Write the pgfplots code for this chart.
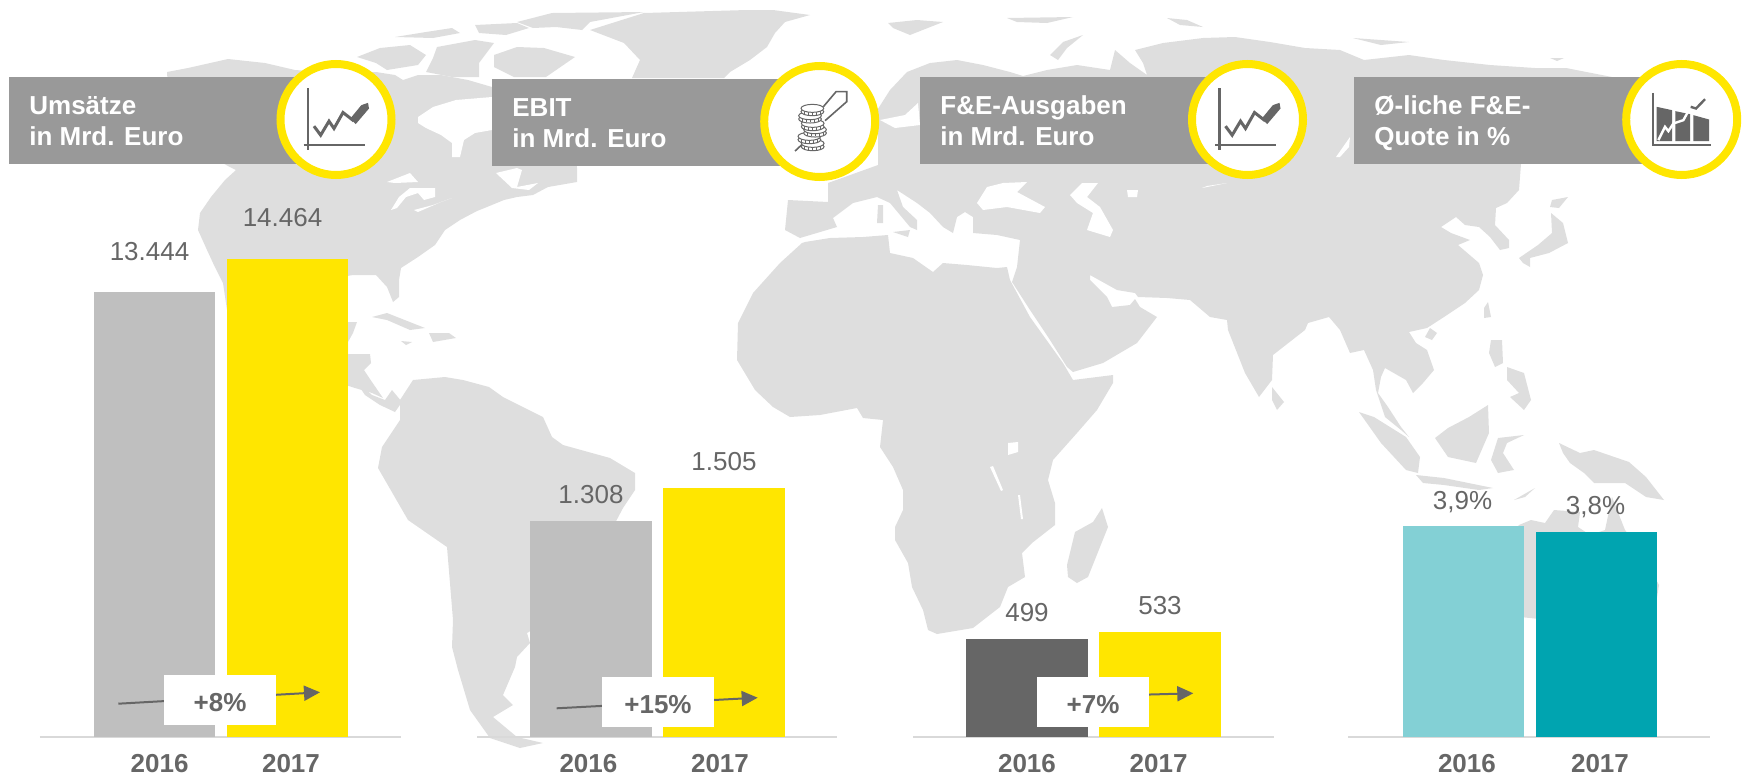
\documentclass[border=0pt]{standalone}
\usepackage{fontspec}
\setmainfont{Liberation Sans}
\usepackage{pgfplots}
\pgfplotsset{compat=1.18}
\usetikzlibrary{arrows.meta}
\definecolor{MapGray}{HTML}{DEDEDE}
\definecolor{HeadGray}{HTML}{999999}
\definecolor{BarGray}{HTML}{BFBFBF}
\definecolor{TextGray}{HTML}{666666}
\definecolor{EYYellow}{HTML}{FFE600}
\definecolor{LineGray}{HTML}{D9D9D9}
\definecolor{TealLight}{HTML}{83D0D5}
\definecolor{Teal}{HTML}{00A4B0}
\newcommand{\lab}{\fontsize{13}{15}\selectfont}
\newcommand{\labb}{\fontsize{13}{15}\selectfont\bfseries}
\newcommand{\mapland}[1]{\addplot[fill=MapGray,draw=none,forget plot] coordinates {#1};}
\newcommand{\mapsea}[1]{\addplot[fill=white,draw=none,forget plot] coordinates {#1};}
\pgfplotsset{
  panel/.style={
    scale only axis,anchor=south west,height=250pt,
    ymin=0,clip=false,ybar,bar shift=0pt,bar width=60.75pt,
    axis x line=bottom,axis y line=none,
    x axis line style={draw=LineGray,line width=1pt,-},
    tick style={draw=none},
    xticklabels={2016,2017},
    x tick label style={font=\labb,text=TextGray,anchor=base,inner sep=0pt,yshift=-16pt},
    nodes near coords,
    every node near coord/.append style={font=\lab,text=TextGray,anchor=base,inner sep=0pt},
    /pgf/number format/.cd,assume math mode=true,fixed,precision=0,1000 sep={.}}}
\newcommand{\head}[5]{% x, y top, right, line 1, line 2
  \fill[HeadGray] (#1,#2) rectangle (#3,#2+87);
  \node[anchor=base west,inner sep=0pt,text=white,font=\labb] at (#1+20,#2+37.3) {#4};
  \node[anchor=base west,inner sep=0pt,text=white,font=\labb] at (#1+20,#2+69) {#5};
  \draw[EYYellow,line width=4pt,fill=white] (#3,#2+42.5) circle[radius=55.5];}
\newcommand{\iconline}[2]{%
  \begin{scope}[shift={(#1,#2)},x=0.1667pt,y=-0.1667pt,TextGray]
    \draw[line width=1.3pt] (-84,-93) -- (-84,90);
    \draw[line width=1pt] (-97,76) -- (86,76);
    \draw[line width=1.5pt] (-66,20) -- (-46,47) -- (-21,5) -- (-6,27) -- (21,-21) -- (53,4);
    \fill (43,-3) -- (76,-43) -- (96,-50) -- (99,-33) -- (59,14) -- cycle;
  \end{scope}}
\newcommand{\coin}[2]{%
  \draw[TextGray,fill=white,line width=0.5pt] (#1,#2+10) ellipse[x radius=34,y radius=12];
  \foreach \d in {-24,-12,0,12,24} {\draw[TextGray,line width=0.4pt] (#1+\d,#2+8) -- (#1+\d,#2+20);}
  \draw[TextGray,fill=white,line width=0.5pt] (#1,#2) ellipse[x radius=34,y radius=12];}
\newcommand{\iconcoins}[2]{%
  \begin{scope}[shift={(#1,#2)},x=0.1667pt,y=-0.1667pt]
    \draw[TextGray,line width=0.8pt] (-74,88) -- (-44,60);
    \draw[TextGray,line width=0.8pt] (11,-45) -- (49,-90) -- (81,-90) -- (81,-60) -- (16,-3);
    \coin{-21}{65}\coin{-31}{44}\coin{-14}{24}\coin{-21}{5}\coin{-29}{-18}\coin{-22}{-40}
  \end{scope}}
\newcommand{\iconarea}[2]{%
  \begin{scope}[shift={(#1,#2)},x=0.1667pt,y=-0.1667pt,TextGray]
    \draw[line width=1.1pt] (-86,-80) -- (-86,76) -- (88,76);
    \fill (-75,-38) -- (-29,-28) -- (-29,65) -- (-75,65) -- cycle;
    \fill (-19,-25) -- (25,-16) -- (25,65) -- (-19,65) -- cycle;
    \fill (35,-13) -- (82,0) -- (82,65) -- (35,65) -- cycle;
    \draw[white,line width=1.2pt] (-70,62) -- (-50,22) -- (-40,35) -- (-25,12) -- (5,2) -- (27,-38);
    \draw[line width=1.2pt] (27,-38) -- (43,-33) -- (70,-61);
  \end{scope}}
\newcommand{\growth}[9]{% arrow x0,y0,x1,y1, box x0,y0,x1,y1, text
  \draw[TextGray,line width=1pt,-{Triangle[length=8pt,width=7.5pt]}] (#1,#2) -- (#3,#4);
  \fill[white] (#5,#6) rectangle (#7,#8);
  \node[anchor=base,inner sep=0pt,text=TextGray,font=\labb] at ({(#5+#7)/2},#8-13.5) {#9};}

\begin{document}
\begin{tikzpicture}
\path[use as bounding box] (0,0) rectangle (873.5pt,389pt);
% world map in the background, in pixels of the 1747x778 frame
\begin{axis}[at={(0,0)},anchor=south west,scale only axis,width=873.5pt,height=389pt,
  xmin=0,xmax=1747,ymin=0,ymax=778,y dir=reverse,axis lines=none]
% North and Central America
\mapland{(167,72)(188,68)(228,59)(265,63)(295,70)(322,72)(376,72)(395,75)(403,80)(418,75)(441,75)(468,80)(492,87)(540,100)(575,140)(577,168)(577,182)(548,187)(533,195)(517,197)(504,200)(487,207)(477,211)(460,220)(445,230)(435,245)(418,257)(401,268)(399,280)(399,297)(393,302)(387,287)(376,275)(353,275)(341,277)(320,300)(315,320)(348,322)(357,322)(353,333)(348,342)(348,354)(370,354)(371,363)(364,370)(372,382)(383,398)(372,393)(355,388)(330,380)(250,330)(227,310)(223,283)(213,263)(207,250)(198,230)(200,213)(211,197)(225,180)(236,170)(228,166)(200,150)(170,120)}
\mapsea{(418,117)(433,107)(456,100)(492,97)(492,130)(475,133)(464,140)(460,157)(452,157)(452,143)(441,135)(426,128)(418,123)}
\mapsea{(387,182)(410,173)(418,182)(395,183)}
\mapsea{(391,210)(399,197)(410,188)(435,188)(435,197)(424,200)(418,193)(406,197)(397,208)}
\mapsea{(414,210)(433,205)(452,198)(441,202)(418,212)}
\mapsea{(496,173)(517,168)(522,170)(517,187)(538,183)(529,190)(512,188)}
% Arctic islands and Greenland
\mapland{(357,57)(380,48)(410,45)(426,55)(418,65)(387,70)(376,63)}
\mapland{(395,37)(426,32)(452,28)(460,33)(433,38)}
\mapland{(475,25)(517,23)(529,28)(506,35)(479,33)}
\mapland{(517,22)(552,13)(644,12)(590,22)(582,30)(556,27)(533,28)}
\mapland{(494,55)(517,47)(544,48)(575,57)(546,77)(514,77)(494,67)}
\mapland{(437,47)(475,40)(494,43)(479,63)(479,77)(452,77)(426,72)(433,58)}
\mapland{(590,30)(644,13)(747,10)(773,10)(810,15)(785,22)(775,33)(767,47)(750,60)(730,72)(724,78)(632,78)(640,60)(624,43)}
\mapland{(372,317)(387,313)(425,328)(410,330)(387,320)}
\mapland{(429,333)(449,333)(456,338)(433,342)}
\mapland{(401,341)(412,342)(406,345)}
% South America
\mapland{(400,400)(413,380)(445,377)(463,380)(489,387)(503,397)(543,417)(552,437)(563,445)(610,458)(635,473)(635,490)(623,508)(613,527)(590,570)(550,620)(527,633)(530,643)(517,657)(515,667)(503,695)(513,705)(493,717)(517,737)(543,743)(520,748)(490,738)(470,710)(458,670)(452,647)(453,620)(447,547)(408,520)(378,468)(382,447)(400,420)}
\mapland{(355,380)(372,395)(385,400)(392,390)(402,402)(395,412)(380,405)(365,395)}
% Africa and Madagascar
\mapland{(805,242)(830,238)(863,237)(888,235)(890,253)(913,258)(933,272)(943,263)(967,265)(997,268)(1007,267)(1010,280)(1030,317)(1063,363)(1073,380)(1113,375)(1113,383)(1097,410)(1077,433)(1053,460)(1048,480)(1055,503)(1055,525)(1032,543)(1022,553)(1025,577)(1008,587)(1000,607)(973,628)(937,634)(928,630)(923,610)(912,587)(908,563)(895,540)(895,527)(903,510)(903,490)(893,467)(880,447)(883,420)(863,418)(857,408)(820,415)(790,417)(773,407)(755,390)(737,360)(738,323)(753,293)(780,263)(802,243)}
\mapsea{(1008,443)(1018,442)(1018,452)(1008,455)}
\mapsea{(990,467)(993,466)(1003,490)(1001,491)}
\mapsea{(1018,495)(1020,495)(1023,519)(1021,519)}
\mapland{(1102,508)(1108,527)(1088,577)(1077,583)(1068,577)(1067,565)(1075,532)(1093,522)}
% Eurasia
\mapland{(907,72)(930,63)(957,60)(983,65)(1010,72)(1023,76)(1047,70)(1077,65)(1110,70)(1115,50)(1130,63)(1147,75)(1143,63)(1135,50)(1163,43)(1203,38)(1235,37)(1270,42)(1305,48)(1340,50)(1364,60)(1409,55)(1444,60)(1490,65)(1535,68)(1566,68)(1612,77)(1643,80)(1680,100)(1690,140)(1600,120)(1521,164)(1519,190)(1507,203)(1496,208)(1495,225)(1509,240)(1509,248)(1500,250)(1490,237)(1479,227)(1465,225)(1456,217)(1441,227)(1451,233)(1470,240)(1458,245)(1479,263)(1483,275)(1479,290)(1465,303)(1444,317)(1427,328)(1409,332)(1416,343)(1427,350)(1434,370)(1423,383)(1413,393)(1406,380)(1385,368)(1381,377)(1378,393)(1388,407)(1401,427)(1409,437)(1401,430)(1385,417)(1376,390)(1373,370)(1364,350)(1350,353)(1340,330)(1329,317)(1308,323)(1305,330)(1273,355)(1272,380)(1259,397)(1245,373)(1228,330)(1227,320)(1210,317)(1190,300)(1167,298)(1138,297)(1135,293)(1117,290)(1090,275)(1090,280)(1107,297)(1112,307)(1130,305)(1135,299)(1140,307)(1157,317)(1137,343)(1103,363)(1073,372)(1067,367)(1050,340)(1030,310)(1012,282)(1017,267)(1020,240)(997,235)(973,233)(973,217)(965,212)(957,217)(953,233)(943,227)(930,213)(917,203)(897,190)(903,207)(917,220)(917,230)(910,227)(890,203)(877,197)(853,203)(833,218)(837,227)(800,238)(785,230)(788,200)(828,202)(828,183)(878,165)(878,125)(876,112)(890,90)}
\mapsea{(977,203)(987,187)(1003,183)(1027,182)(1017,192)(1045,207)(1040,213)(1007,207)(983,210)}
\mapsea{(1070,195)(1082,183)(1098,183)(1087,197)(1100,207)(1113,230)(1110,237)(1087,230)(1093,213)(1077,203)}
\mapsea{(1127,190)(1138,190)(1137,197)(1128,197)}
\mapsea{(1202,188)(1227,183)(1207,186)}
\mapsea{(1336,157)(1350,137)(1349,147)(1340,157)}
\mapsea{(880,120)(905,115)(918,103)(920,125)(895,128)}
\mapland{(1050,55)(1063,42)(1083,35)(1067,48)(1058,60)}
\mapland{(888,23)(917,20)(943,22)(910,35)(893,28)}
\mapland{(1167,18)(1187,20)(1203,27)(1180,25)}
\mapland{(1007,18)(1073,17)(1047,23)(1017,22)}
\mapland{(1353,38)(1409,42)(1381,45)}
\mapland{(1550,58)(1564,58)(1557,61)}
\mapland{(878,205)(883,205)(883,223)(877,223)}
\mapland{(893,232)(910,230)(908,237)}
% East Asia, the islands and Australia
\mapland{(1519,258)(1538,245)(1552,233)(1551,213)(1563,223)(1568,243)(1549,253)(1530,258)(1530,267)(1523,263)}
\mapland{(1552,200)(1568,197)(1559,208)(1550,207)}
\mapland{(1488,302)(1491,317)(1484,318)(1484,308)}
\mapland{(1430,328)(1437,333)(1432,340)(1425,337)}
\mapland{(1491,340)(1502,340)(1503,363)(1495,367)(1489,353)}
\mapland{(1507,367)(1524,373)(1531,400)(1524,410)(1510,397)(1519,393)(1507,380)}
\mapland{(1488,405)(1489,433)(1476,463)(1448,457)(1435,438)(1448,428)(1469,417)}
\mapland{(1359,412)(1374,417)(1406,437)(1420,457)(1418,473)(1406,470)(1381,443)}
\mapland{(1416,475)(1444,478)(1493,488)(1479,490)(1444,485)(1423,483)}
\mapland{(1498,438)(1524,435)(1507,443)(1503,453)(1514,470)(1503,472)(1498,473)(1491,460)}
\mapland{(1272,387)(1284,402)(1277,410)(1272,400)}
\mapland{(1559,443)(1580,453)(1594,450)(1629,462)(1646,477)(1664,500)(1646,497)(1625,483)(1594,483)(1584,473)(1570,463)(1563,453)}
\mapland{(1514,500)(1535,488)(1525,497)}
\mapland{(1519,525)(1531,520)(1545,523)(1554,510)(1580,512)(1578,527)(1590,535)(1605,530)(1612,497)(1625,530)(1640,550)(1659,585)(1655,610)(1640,630)(1530,618)(1500,615)(1490,600)(1480,570)(1500,545)}
\end{axis}
% Umsaetze
\begin{axis}[panel,at={(20pt,20.75pt)},width=180.5pt,xmin=-0.861,xmax=1.853,ymax=15130,
  xtick={0.038,1.026},
  every node near coord/.append style={yshift=16pt,xshift=-2.5pt}]
\addplot[fill=BarGray,draw=none] coordinates {(0,13444)};
\addplot[fill=EYYellow,draw=none] coordinates {(1,14464)};
\end{axis}
% EBIT
\begin{axis}[panel,at={(238.5pt,20.75pt)},width=180pt,xmin=-0.857,xmax=1.850,ymax=3028,
  xtick={-0.019,0.97},
  every node near coord/.append style={yshift=8.75pt}]
\addplot[fill=BarGray,draw=none] coordinates {(0,1308)};
\addplot[fill=EYYellow,draw=none] coordinates {(1,1505)};
\end{axis}
% F&E-Ausgaben
\begin{axis}[panel,at={(456.5pt,20.75pt)},width=180.5pt,xmin=-0.857,xmax=1.857,ymax=2550,
  xtick={0,0.989},
  every node near coord/.append style={yshift=8.5pt}]
\addplot[fill=TextGray,draw=none] coordinates {(0,499)};
\addplot[fill=EYYellow,draw=none] coordinates {(1,533)};
\end{axis}
% F&E-Quote
\begin{axis}[panel,at={(674pt,20.75pt)},width=181pt,xmin=-0.868,xmax=1.853,ymax=9.27,
  xtick={0.026,1.026},
  nodes near coords={\pgfmathprintnumber[fixed,zerofill,precision=1,use comma]{\pgfplotspointmeta}\%},
  every node near coord/.append style={yshift=8.5pt,xshift=-0.5pt}]
\addplot[fill=TealLight,draw=none] coordinates {(0,3.9)};
\addplot[fill=Teal,draw=none] coordinates {(1,3.8)};
\end{axis}
% headers, icons and growth arrows, in pixels of the frame
\begin{scope}[x=0.5pt,y=-0.5pt,yshift=389pt]
\head{9}{77}{336}{Umsätze}{in Mrd. Euro}
\head{492}{79}{819.7}{EBIT}{in Mrd. Euro}
\head{920}{77}{1247.5}{F\&E-Ausgaben}{in Mrd. Euro}
\head{1354}{77}{1681.7}{Ø-liche F\&E-}{Quote in \%}
\iconline{336}{119.5}
\iconcoins{819.7}{121.7}
\iconline{1247.5}{119.5}
\iconarea{1681.7}{119.5}
\growth{118.3}{703.7}{320}{692.3}{164}{675}{276}{724.7}{+8\%}
\growth{556.7}{708.3}{757.7}{697.7}{602}{677}{714}{726.7}{+15\%}
\growth{990}{699}{1193.3}{693.3}{1037}{677}{1149}{726.7}{+7\%}
\end{scope}
\end{tikzpicture}
\end{document}
